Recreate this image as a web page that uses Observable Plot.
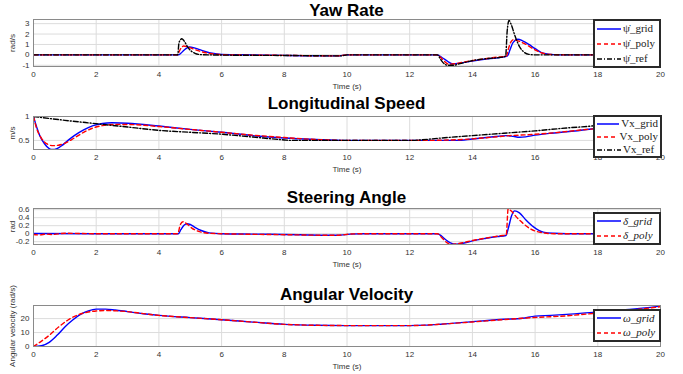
<!DOCTYPE html>
<html><head><meta charset="utf-8">
<script src="https://cdn.jsdelivr.net/npm/d3@7"></script>
<script src="https://cdn.jsdelivr.net/npm/@observablehq/plot@0.6"></script>
<style>
body{margin:0;background:#fff;}
#wrap{position:relative;width:683px;height:374px;overflow:hidden;font-family:"Liberation Sans",Arial,sans-serif;}
.title{position:absolute;left:33px;width:627px;text-align:center;font-weight:bold;font-size:17px;color:#000;line-height:17px;}
.legend{position:absolute;background:#fff;border:2px solid #2a2a2a;font-family:"Liberation Serif",serif;font-size:11px;color:#222;padding:0 2px;box-sizing:border-box;display:flex;flex-direction:column;justify-content:space-around;}
.legend .row{display:flex;align-items:center;white-space:nowrap;height:13px;line-height:13px;}
.legend svg{margin-right:2px;}
</style></head>
<body><div id="wrap"></div>
<script>
// ---------- data ----------
const xTicks = [0,2,4,6,8,10,12,14,16,18,20];
const titles = ["Yaw Rate","Longitudinal Speed","Steering Angle","Angular Velocity"];
const yLabels = ["rad/s","m/s","rad","Angular velocity (rad/s)"];

// Yaw rate [t, value]
const yawGrid = [[0,0],[4.62,0],[4.7,0.15],[4.8,0.45],[4.9,0.68],[4.98,0.75],[5.1,0.7],[5.3,0.5],[5.5,0.3],[5.7,0.15],[6,0.04],[7,0],[8,-0.05],[9.7,-0.1],[10,0],[12.88,0],[13.05,-0.3],[13.2,-0.6],[13.35,-0.85],[13.6,-0.8],[14,-0.6],[14.5,-0.38],[15,-0.2],[15.12,-0.1],[15.2,0.5],[15.3,1.2],[15.45,1.5],[15.6,1.35],[15.8,1.0],[16,0.6],[16.26,0.15],[16.6,0.02],[17,0],[20,0]];
const yawPoly = [[0,0],[4.6,0],[4.66,0.4],[4.72,0.7],[4.79,0.85],[4.9,0.78],[5.05,0.62],[5.25,0.4],[5.5,0.2],[5.8,0.06],[6.2,0],[8,-0.05],[9.7,-0.1],[10,0],[12.88,0],[13.05,-0.45],[13.25,-0.9],[13.45,-0.85],[13.8,-0.65],[14.3,-0.42],[14.8,-0.22],[15.08,-0.12],[15.15,0.6],[15.22,1.2],[15.3,1.45],[15.45,1.35],[15.65,1.1],[15.9,0.65],[16.2,0.2],[16.5,0.04],[17,0],[20,0]];
const yawRef = [[0,0],[4.6,0],[4.64,1.15],[4.69,1.45],[4.73,1.55],[4.8,1.35],[4.9,0.85],[5.0,0.45],[5.15,0.15],[5.35,0.02],[6,-0.02],[8,-0.06],[9.8,-0.1],[10,0],[12.88,0],[13.0,-0.5],[13.1,-0.85],[13.2,-1.0],[13.4,-1.0],[13.6,-0.85],[14,-0.55],[14.5,-0.35],[15,-0.2],[15.06,-0.1],[15.11,2.3],[15.17,3.3],[15.24,2.9],[15.35,1.9],[15.5,0.8],[15.65,0.25],[15.8,0.05],[16,0],[20,0]];

// Longitudinal speed
const vxGrid = [[0,1],[0.1,0.78],[0.2,0.6],[0.35,0.43],[0.5,0.33],[0.6,0.31],[0.75,0.33],[0.9,0.39],[1.1,0.5],[1.3,0.6],[1.6,0.72],[1.9,0.81],[2.2,0.855],[2.5,0.87],[3,0.86],[4,0.8],[5,0.73],[6,0.67],[7,0.6],[8,0.55],[9,0.52],[10,0.5],[12,0.5],[13.5,0.5],[14,0.53],[14.6,0.57],[15.1,0.6],[15.3,0.585],[15.5,0.565],[15.7,0.575],[16,0.61],[16.5,0.65],[17,0.68],[17.8,0.74],[18.7,0.82],[19.4,0.9],[20,0.97]];
const vxPoly = [[0,1],[0.1,0.75],[0.25,0.55],[0.45,0.42],[0.63,0.39],[0.8,0.4],[1.0,0.44],[1.3,0.55],[1.6,0.67],[1.9,0.76],[2.2,0.81],[2.6,0.835],[3.2,0.83],[4,0.79],[5,0.73],[6,0.67],[7,0.61],[8,0.56],[9,0.52],[10,0.5],[12.5,0.5],[13.7,0.52],[14.5,0.56],[15.2,0.6],[15.8,0.62],[16.6,0.66],[17.5,0.72],[18.5,0.78],[19.3,0.87],[20,0.95]];
const vxRef = [[0,1],[1,0.92],[2,0.85],[3,0.78],[4,0.71],[5,0.67],[6,0.63],[7,0.57],[8,0.51],[8.2,0.5],[12,0.5],[13,0.55],[14,0.6],[15,0.65],[16,0.7],[17,0.76],[17.8,0.8],[19,0.9],[20,1.0]];

// Steering angle
const delGrid = [[0,0.005],[2,0],[4.62,0],[4.7,0.1],[4.8,0.21],[4.9,0.25],[5.0,0.23],[5.15,0.16],[5.35,0.08],[5.6,0.02],[6,0],[7,-0.01],[8.5,-0.025],[9.5,-0.04],[9.8,-0.035],[10.1,-0.01],[10.5,0],[12.88,0],[13.0,-0.05],[13.15,-0.15],[13.3,-0.23],[13.47,-0.265],[13.7,-0.24],[14.0,-0.18],[14.4,-0.12],[14.8,-0.07],[15.07,-0.045],[15.15,0.15],[15.25,0.45],[15.35,0.57],[15.5,0.52],[15.7,0.35],[15.95,0.17],[16.26,0.04],[16.6,0.01],[17,0],[20,0]];
const delPoly = [[0,-0.02],[0.2,-0.03],[0.4,-0.01],[0.6,-0.02],[1,0.01],[2,0],[4.6,0],[4.68,0.22],[4.77,0.3],[4.9,0.24],[5.05,0.14],[5.3,0.05],[5.6,0.01],[6,0],[8,-0.025],[9.6,-0.04],[10.2,-0.005],[10.5,0],[12.88,0],[13.05,-0.12],[13.2,-0.23],[13.33,-0.27],[13.6,-0.24],[14.0,-0.17],[14.5,-0.1],[14.9,-0.05],[15.08,-0.03],[15.14,0.62],[15.25,0.56],[15.4,0.42],[15.6,0.27],[15.85,0.12],[16.2,0.03],[16.6,0],[20,0]];

// Angular velocity
const omGrid = [[0,0],[0.25,0.5],[0.5,3],[0.75,8],[1.0,14],[1.25,19],[1.5,23],[1.75,25.6],[2.0,26.8],[2.3,26.8],[2.6,26.2],[3,25],[3.5,23.5],[4,22.3],[5,20.7],[6,19.2],[7,17.5],[8,15.9],[9,15.2],[10,15],[12,15],[12.5,15.3],[13,16],[14,17.8],[15,19.5],[15.6,20.3],[16,21.8],[16.5,22.3],[17,23],[18,24.8],[19,26.5],[20,29]];
const omPoly = [[0,0],[0.2,3],[0.5,8],[0.8,14],[1.1,19],[1.4,22.5],[1.7,24.5],[2.0,25.5],[2.3,25.8],[2.7,25.5],[3,25],[3.5,23.6],[4,22.3],[5,20.7],[6,19.2],[7,17.5],[8,15.9],[9,15.2],[10,15],[12,15],[12.5,15.3],[13,16],[14,17.6],[15,19.3],[16,20.8],[17,22],[18,24],[19,26],[20,28.5]];

// panel layout
const panels = [
  {top:19, h:47, yDomain:[-1.12,3.4], yTicks:[-1,0,1,2,3],
   series:[{d:yawGrid,c:"#0000ff",dash:null,n:"ψ̇_grid"},{d:yawPoly,c:"#ff0000",dash:"4,3",n:"ψ̇_poly"},{d:yawRef,c:"#000000",dash:"5,2,1,2",n:"ψ̇_ref"}],
   legend:{left:593,top:19,w:68,h:49,italic:false}, titleTop:2},
  {top:116, h:33, yDomain:[0.31,1.0], yTicks:[0.5,1],
   series:[{d:vxGrid,c:"#0000ff",dash:null,n:"Vx_grid"},{d:vxPoly,c:"#ff0000",dash:"4,3",n:"Vx_poly"},{d:vxRef,c:"#000000",dash:"5,2,1,2",n:"Vx_ref"}],
   legend:{left:593,top:115,w:69,h:43,italic:false}, titleTop:95},
  {top:208, h:36, yDomain:[-0.27,0.63], yTicks:[-0.2,0,0.2,0.4,0.6],
   series:[{d:delGrid,c:"#0000ff",dash:null,n:"δ_grid"},{d:delPoly,c:"#ff0000",dash:"4,3",n:"δ_poly"}],
   legend:{left:593,top:212,w:68,h:33,italic:true}, titleTop:189},
  {top:305, h:41, yDomain:[0,29.4], yTicks:[0,10,20],
   series:[{d:omGrid,c:"#0000ff",dash:null,n:"ω_grid"},{d:omPoly,c:"#ff0000",dash:"4,3",n:"ω_poly"}],
   legend:{left:593,top:309,w:68,h:33,italic:true}, titleTop:286}
];

const wrap = document.getElementById("wrap");
panels.forEach((p, i) => {
  const mt = 3, mb = 26;
  const marks = [
    Plot.gridX(xTicks, {stroke:"#dcdcdc", strokeOpacity:1}),
    Plot.gridY(p.yTicks, {stroke:"#dcdcdc", strokeOpacity:1})
  ];
  p.series.forEach(s => {
    marks.push(Plot.line(s.d, {x:d=>d[0], y:d=>d[1], stroke:s.c, strokeWidth:1.4, strokeDasharray:s.dash, curve:"monotone-x", clip:true}));
  });
  marks.push(Plot.frame({stroke:"#8a8a8a", strokeWidth:1}));
  marks.push(Plot.axisX({ticks:xTicks, tickSize:0, tickPadding:5, tickFormat:d=>String(d), label:"Time (s)", labelAnchor:"center", labelArrow:false, labelOffset:22}));
  marks.push(Plot.axisY({ticks:p.yTicks, tickSize:0, tickPadding:4, tickFormat:d=>String(d), label:yLabels[i], labelAnchor:"center", labelArrow:false, labelOffset:24}));
  const svg = Plot.plot({
    width:683, height:mt+p.h+mb, marginTop:mt, marginBottom:mb, marginLeft:33, marginRight:23,
    style:{fontSize:"8px", fontFamily:"Liberation Sans, Arial, sans-serif", color:"#333", background:"transparent", overflow:"visible"},
    x:{domain:[0,20]}, y:{domain:p.yDomain},
    marks
  });
  svg.style.position = "absolute";
  svg.style.left = "0px";
  svg.style.top = (p.top - mt) + "px";
  wrap.appendChild(svg);

  const t = document.createElement("div");
  t.className = "title";
  t.style.top = p.titleTop + "px";
  t.textContent = titles[i];
  wrap.appendChild(t);

  const lg = document.createElement("div");
  lg.className = "legend";
  Object.assign(lg.style, {left:p.legend.left+"px", top:p.legend.top+"px", width:p.legend.w+"px", height:p.legend.h+"px"});
  p.series.forEach(s => {
    const row = document.createElement("div");
    row.className = "row";
    row.innerHTML = `<svg width="24" height="6"><line x1="0" y1="3" x2="24" y2="3" stroke="${s.c}" stroke-width="1.5" ${s.dash?`stroke-dasharray="${s.dash}"`:""}/></svg><span style="font-style:${p.legend.italic?"italic":"normal"}">${s.n}</span>`;
    lg.appendChild(row);
  });
  wrap.appendChild(lg);
});
</script></body></html>
